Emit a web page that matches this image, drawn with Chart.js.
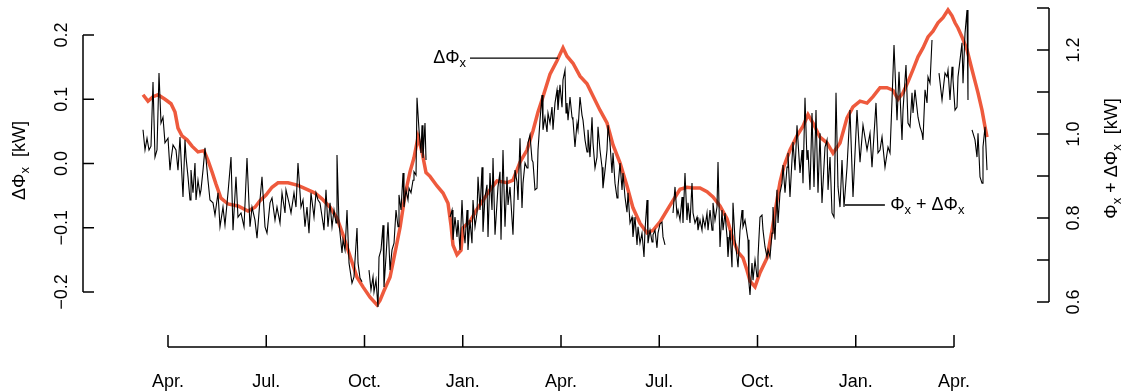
<!DOCTYPE html>
<html lang="en">
<head>
  <meta charset="UTF-8">
  <title>Delta Phi x</title>
  <script src="https://cdn.jsdelivr.net/npm/chart.js"></script>
  <style>
    html, body { margin: 0; padding: 0; background: #fff; }
    #wrap { width: 1131px; height: 392px; position: relative; }
  </style>
</head>
<body>
  <div id="wrap"><canvas id="phiChart"></canvas></div>

  <script>
    // x in months after the first April (Apr. = 0, Jul. = 3, ...)
    const monthTicks = [0, 3, 6, 9, 12, 15, 18, 21, 24];
    const monthLabels = ['Apr.', 'Jul.', 'Oct.', 'Jan.', 'Apr.', 'Jul.', 'Oct.', 'Jan.', 'Apr.'];

    const leftTicks = [-0.2, -0.1, 0, 0.1, 0.2];
    const leftTickLabels = ['\u22120.2', '\u22120.1', '0.0', '0.1', '0.2'];
    const rightTicks = [0.6, 0.7, 0.8, 0.9, 1.0, 1.1, 1.2, 1.3];
    const rightTickLabels = ['0.6', '', '0.8', '', '1.0', '', '1.2', ''];

    // Phi_x + Delta Phi_x (black, right axis); null = gap in the record
    const netMonth = [
      -0.763,-0.702,-0.641,-0.580,-0.519,-0.458,-0.397,-0.336,-0.275,-0.214,
      -0.153,-0.092,0,0.061,0.092,0.153,0.244,0.305,0.366,0.458,
      0.519,0.550,0.611,0.672,0.702,0.763,0.824,0.855,0.916,0.977,
      1.008,1.069,1.130,1.221,1.282,1.374,1.435,1.527,1.588,1.679,
      1.740,1.832,1.924,1.985,2.076,2.137,2.229,2.321,2.412,2.504,
      2.565,2.656,2.718,2.809,2.870,2.962,3.023,3.115,3.176,3.267,
      3.328,3.420,3.481,3.573,3.603,3.695,3.756,3.847,3.908,3.969,
      4.061,4.122,4.183,4.244,4.305,4.366,4.458,4.519,4.580,4.641,
      4.733,4.763,4.824,4.885,4.947,5.008,5.069,5.130,5.160,5.221,
      5.313,5.344,5.405,5.466,5.527,5.618,5.679,5.771,5.802,5.863,
      5.924,6.03,
      6.137,6.198,6.260,6.290,6.351,6.412,6.443,6.504,6.565,6.595,
      6.656,6.718,6.779,6.840,6.901,6.962,7.023,7.053,7.115,7.176,
      7.206,7.267,7.328,7.359,7.420,7.481,7.511,7.573,7.603,7.664,
      7.725,7.756,7.786,7.847,7.878,8.2,
      8.611,8.672,8.702,8.763,8.824,8.855,8.916,8.977,9.008,9.069,
      9.130,9.160,9.221,9.282,9.313,9.374,9.435,9.466,9.527,9.588,
      9.618,9.679,9.740,9.771,9.832,9.893,9.924,9.985,10.076,10.137,
      10.168,10.229,10.290,10.351,10.382,10.443,10.534,10.595,10.656,10.687,
      10.748,10.809,10.840,10.901,10.962,10.992,11.053,11.115,11.145,11.206,
      11.267,11.298,11.359,11.420,11.450,11.511,11.573,11.603,11.664,11.725,
      11.756,11.817,11.878,11.908,11.969,12.031,12.061,12.122,12.153,12.183,
      12.214,12.275,12.336,12.366,12.427,12.489,12.519,12.580,12.641,12.672,
      12.733,12.794,12.824,12.885,12.947,12.977,13.038,13.099,13.130,13.191,
      13.252,13.282,13.344,13.405,13.435,13.496,13.557,13.588,13.649,13.710,
      13.740,13.802,13.863,13.893,13.954,14.015,14.046,14.107,14.168,14.198,
      14.260,14.321,14.351,14.412,14.473,14.534,14.565,14.626,14.656,14.718,
      14.779,14.809,14.870,14.931,14.962,15.023,15.084,15.115,15.176,15.3,
      15.420,15.481,15.542,15.573,15.634,15.695,15.725,15.786,15.847,15.878,
      15.939,16.000,16.031,16.092,16.153,16.183,16.244,16.305,16.336,16.397,
      16.458,16.489,16.550,16.611,16.641,16.702,16.763,16.794,16.855,16.916,
      16.947,17.008,17.069,17.099,17.160,17.221,17.252,17.313,17.374,17.405,
      17.466,17.527,17.557,17.618,
      17.710,17.740,17.771,17.832,17.863,17.924,17.985,18.015,18.076,18.137,
      18.168,18.229,18.290,18.321,18.382,18.443,18.473,18.534,18.595,18.626,
      18.687,18.748,18.779,18.840,18.901,18.931,18.992,19.053,19.084,19.145,
      19.206,19.298,19.359,19.389,19.450,19.511,19.542,19.603,19.664,19.725,
      19.786,19.847,19.908,19.969,20.061,20.122,20.153,20.214,20.275,20.336,
      20.397,20.458,20.519,20.580,20.641,20.733,20.824,20.916,21.038,21.130,
      21.221,21.344,21.435,21.496,21.618,21.679,21.740,21.802,21.893,21.985,
      22.046,22.107,22.168,22.260,22.321,22.412,22.443,22.534,22.595,22.656,
      22.718,22.748,22.809,22.901,22.962,23.023,23.053,23.115,23.176,23.206,
      23.267,23.328,23.43,
      23.542,23.634,23.725,23.786,23.817,23.878,23.939,23.969,24.031,24.092,
      24.122,24.183,24.244,24.275,24.336,24.397,24.427,24.49,
      24.550,24.641,24.702,24.733,24.794,24.855,24.885,24.947,25.008
    ];
    const netValue = [
      1.010,0.962,0.990,0.962,0.971,1.124,0.945,0.962,1.145,1.026,
      1.040,0.979,0.990,0.914,0.938,0.974,0.962,0.914,0.993,0.850,
      0.986,0.945,0.898,0.843,0.914,0.860,0.931,0.843,0.890,0.855,
      0.867,0.914,0.967,0.890,0.843,0.836,0.807,0.860,0.779,0.826,
      0.783,0.860,0.945,0.771,0.898,0.802,0.812,0.779,0.943,0.779,
      0.826,0.795,0.752,0.843,0.898,0.779,0.764,0.836,0.848,0.795,
      0.826,0.788,0.860,0.812,0.867,0.836,0.812,0.860,0.826,0.931,
      0.826,0.843,0.779,0.826,0.764,0.860,0.802,0.860,0.843,0.836,
      0.788,0.771,0.867,0.779,0.836,0.779,0.819,0.788,0.950,0.788,
      0.717,0.748,0.724,0.819,0.693,0.645,0.660,0.776,0.693,0.657,
      0.648,null,
      0.676,0.629,0.660,0.624,0.652,0.588,0.707,0.724,0.783,0.636,
      0.707,0.790,0.676,0.724,0.740,0.819,0.779,0.855,0.819,0.907,
      0.826,0.867,0.843,0.871,0.860,0.890,0.910,0.902,1.086,1.010,
      0.955,1.021,0.943,1.026,0.938,null,
      0.802,0.819,0.748,0.802,0.755,0.795,0.724,0.843,0.788,0.740,
      0.819,0.724,0.795,0.740,0.843,0.779,0.812,0.898,0.819,0.921,
      0.767,0.850,0.879,0.755,0.907,0.819,0.943,0.760,0.874,0.910,
      0.748,0.962,0.779,0.898,0.831,0.874,0.760,0.914,0.886,0.843,
      0.990,0.824,0.883,0.931,0.919,0.979,0.998,0.938,0.933,0.867,
      0.871,0.962,1.033,1.093,1.010,1.040,1.005,1.050,1.026,1.064,
      1.010,1.074,1.105,1.057,1.117,1.064,1.129,1.152,1.050,1.074,
      1.033,1.088,1.040,1.033,0.969,1.026,1.010,1.088,1.045,1.033,
      0.986,0.957,1.010,0.945,1.040,0.979,0.919,0.945,1.017,0.962,
      0.921,0.871,0.914,0.962,1.021,0.979,0.907,0.955,0.883,0.848,
      0.874,0.931,0.867,0.907,0.850,0.814,0.860,0.788,0.802,0.755,
      0.802,0.736,0.779,0.740,0.764,0.707,0.771,0.843,0.740,0.771,
      0.743,0.760,0.771,0.729,0.764,0.786,0.790,0.755,0.736,null,
      0.812,0.874,0.807,0.819,0.795,0.850,0.788,0.907,0.795,0.836,
      0.788,0.883,0.812,0.788,0.802,0.771,0.795,0.771,0.802,0.779,
      0.812,0.771,0.819,0.771,0.836,0.795,0.826,0.933,0.731,0.819,
      0.771,0.812,0.755,0.707,0.771,0.683,0.836,0.748,0.707,0.683,
      0.771,0.819,0.779,0.795,
      0.748,0.645,0.617,0.693,0.652,0.700,0.660,0.707,0.802,0.807,
      0.771,0.731,0.707,0.724,0.707,0.764,0.826,0.748,0.867,0.788,
      0.860,0.883,0.926,0.860,0.921,0.955,0.850,0.938,0.981,0.914,
      1.021,0.907,0.962,0.883,1.086,0.938,0.962,0.867,1.050,0.874,
      1.057,0.860,1.002,0.836,0.969,0.986,0.867,0.945,0.812,0.802,
      1.098,0.874,0.826,0.938,0.826,0.921,1.057,0.850,1.057,0.933,
      1.021,0.962,1.002,0.921,1.074,0.955,0.962,0.993,0.921,0.969,
      0.955,1.081,1.212,1.033,1.148,0.986,1.057,1.164,1.026,1.017,
      1.098,1.050,1.105,1.040,1.017,1.002,0.986,1.105,1.074,1.136,
      1.121,1.224,null,
      1.145,1.081,1.145,1.136,1.152,1.081,1.160,1.129,1.057,1.064,
      1.136,1.176,1.217,1.121,1.240,1.295,1.081,null,
      1.010,0.986,0.945,1.002,0.898,0.883,0.969,1.017,0.914
    ];

    // Delta Phi_x (red, left axis)
    const deltaMonth = [
      -0.763,-0.611,-0.458,-0.305,-0.092,0.092,0.214,0.305,0.427,0.580,
      0.733,0.916,1.099,1.221,1.344,1.466,1.618,1.832,2.137,2.443,
      2.656,2.809,2.992,3.176,3.359,3.664,3.969,4.275,4.489,4.702,
      4.947,5.160,5.344,5.557,5.771,5.954,6.168,6.382,6.473,6.595,
      6.779,6.931,7.084,7.237,7.389,7.511,7.634,7.756,7.878,8.000,
      8.214,8.397,8.550,8.641,8.702,8.824,8.947,9.008,9.221,9.435,
      9.649,9.832,10.046,10.351,10.534,10.748,10.962,11.145,11.298,11.450,
      11.664,11.878,12.061,12.183,12.366,12.580,12.794,12.977,13.191,13.405,
      13.588,13.802,14.015,14.198,14.412,14.626,14.809,15.023,15.328,15.634,
      15.847,16.031,16.244,16.458,16.641,16.855,17.069,17.252,17.405,17.557,
      17.679,17.771,17.924,18.076,18.290,18.443,18.595,18.687,18.809,18.992,
      19.206,19.389,19.542,19.695,19.908,20.122,20.305,20.519,20.733,20.916,
      21.130,21.344,21.527,21.740,21.954,22.137,22.290,22.443,22.595,22.748,
      22.901,23.053,23.206,23.359,23.511,23.664,23.817,23.939,24.031,24.122,
      24.244,24.397,24.550,24.672,24.733,24.855,24.947,25.008
    ];
    const deltaValue = [
      0.107,0.097,0.104,0.107,0.100,0.093,0.080,0.055,0.043,0.037,
      0.027,0.018,0.020,0.005,-0.013,-0.032,-0.054,-0.063,-0.066,-0.074,
      -0.068,-0.058,-0.049,-0.037,-0.030,-0.030,-0.034,-0.041,-0.046,-0.055,
      -0.068,-0.085,-0.111,-0.144,-0.177,-0.192,-0.208,-0.220,-0.213,-0.198,
      -0.177,-0.139,-0.100,-0.049,-0.013,0.009,0.041,0.018,-0.014,-0.020,
      -0.035,-0.046,-0.062,-0.096,-0.127,-0.142,-0.135,-0.100,-0.090,-0.071,
      -0.055,-0.041,-0.027,-0.030,-0.026,0.002,0.021,0.051,0.080,0.104,
      0.139,0.160,0.180,0.167,0.156,0.136,0.124,0.105,0.083,0.063,
      0.029,0.001,-0.035,-0.069,-0.093,-0.108,-0.104,-0.091,-0.065,-0.040,
      -0.037,-0.038,-0.038,-0.044,-0.052,-0.066,-0.086,-0.118,-0.138,-0.147,
      -0.166,-0.183,-0.192,-0.170,-0.147,-0.104,-0.057,-0.029,-0.004,0.021,
      0.043,0.058,0.076,0.063,0.041,0.032,0.016,0.032,0.071,0.088,
      0.097,0.094,0.104,0.118,0.118,0.114,0.100,0.110,0.127,0.146,
      0.166,0.180,0.197,0.206,0.219,0.227,0.239,0.230,0.219,0.211,
      0.197,0.177,0.146,0.122,0.110,0.083,0.057,0.041
    ];

    const FONT = '"Liberation Sans", Arial, Helvetica, sans-serif';

    // text with subscripts: odd entries of parts are subscripts
    function subText(ctx, parts, x, y, size, align) {
      const main = size + 'px ' + FONT;
      const small = Math.round(size * 0.72) + 'px ' + FONT;
      let w = 0;
      parts.forEach((p, i) => { ctx.font = i % 2 ? small : main; w += ctx.measureText(p).width; });
      let cx = align === 'center' ? x - w / 2 : (align === 'right' ? x - w : x);
      ctx.textAlign = 'left';
      ctx.textBaseline = 'middle';
      parts.forEach((p, i) => {
        ctx.font = i % 2 ? small : main;
        ctx.fillText(p, cx, y + (i % 2 ? size * 0.3 : 0));
        cx += ctx.measureText(p).width;
      });
    }

    function rotatedText(ctx, parts, x, y, size) {
      ctx.save();
      ctx.translate(x, y);
      ctx.rotate(-Math.PI / 2);
      subText(ctx, parts, 0, 0, size, 'center');
      ctx.restore();
    }

    // R style detached axes plus the two labels with pointer lines
    const rAxes = {
      id: 'rAxes',
      afterDraw(chart) {
        const { ctx, chartArea, scales: { x, y, y2 } } = chart;
        ctx.save();
        ctx.strokeStyle = '#000';
        ctx.fillStyle = '#000';
        ctx.lineWidth = 1.5;
        ctx.lineCap = 'butt';

        // bottom axis
        const by = chartArea.bottom + 35;
        ctx.beginPath();
        ctx.moveTo(x.getPixelForValue(monthTicks[0]), by);
        ctx.lineTo(x.getPixelForValue(monthTicks[monthTicks.length - 1]), by);
        monthTicks.forEach(m => {
          const px = x.getPixelForValue(m);
          ctx.moveTo(px, by);
          ctx.lineTo(px, by - 12);
        });
        ctx.stroke();
        ctx.font = '18px ' + FONT;
        ctx.textAlign = 'center';
        ctx.textBaseline = 'middle';
        monthTicks.forEach((m, i) => ctx.fillText(monthLabels[i], x.getPixelForValue(m), by + 35));

        // left axis
        const lx = chartArea.left - 57;
        ctx.beginPath();
        ctx.moveTo(lx, y.getPixelForValue(leftTicks[0]));
        ctx.lineTo(lx, y.getPixelForValue(leftTicks[leftTicks.length - 1]));
        leftTicks.forEach(v => {
          const py = y.getPixelForValue(v);
          ctx.moveTo(lx, py);
          ctx.lineTo(lx + 11, py);
        });
        ctx.stroke();
        leftTicks.forEach((v, i) => rotatedText(ctx, [leftTickLabels[i]], lx - 21, y.getPixelForValue(v), 18));
        rotatedText(ctx, ['\u0394\u03a6', 'x', '  [kW]'], lx - 63, (chartArea.top + chartArea.bottom) / 2 + 2, 18);

        // right axis
        const rx = chartArea.right + 59;
        ctx.beginPath();
        ctx.moveTo(rx, y2.getPixelForValue(rightTicks[0]));
        ctx.lineTo(rx, y2.getPixelForValue(rightTicks[rightTicks.length - 1]));
        rightTicks.forEach(v => {
          const py = y2.getPixelForValue(v);
          ctx.moveTo(rx, py);
          ctx.lineTo(rx - 12, py);
        });
        ctx.stroke();
        rightTicks.forEach((v, i) => {
          if (rightTickLabels[i]) rotatedText(ctx, [rightTickLabels[i]], rx + 25, y2.getPixelForValue(v), 18);
        });
        rotatedText(ctx, ['\u03a6', 'x', ' + \u0394\u03a6', 'x', '  [kW]'], rx + 63, (chartArea.top + chartArea.bottom) / 2, 18);

        // labels with pointer lines
        ctx.lineWidth = 1.3;
        const ay = y.getPixelForValue(0.164);
        ctx.beginPath();
        ctx.moveTo(x.getPixelForValue(9.22), ay);
        ctx.lineTo(x.getPixelForValue(11.91), ay);
        const ny = y2.getPixelForValue(0.831);
        ctx.moveTo(x.getPixelForValue(20.67), ny);
        ctx.lineTo(x.getPixelForValue(21.89), ny);
        ctx.stroke();
        subText(ctx, ['\u0394\u03a6', 'x'], x.getPixelForValue(9.10), ay, 18, 'right');
        subText(ctx, ['\u03a6', 'x', ' + \u0394\u03a6', 'x'], x.getPixelForValue(22.05), ny, 18, 'left');
        ctx.restore();
      }
    };

    const netPoints = netMonth.map((m, i) => ({ x: m, y: netValue[i] }));
    const deltaPoints = deltaMonth.map((m, i) => ({ x: m, y: deltaValue[i] }));

    const config = {
      type: 'line',
      data: {
        datasets: [
          {
            label: 'Phi_x + Delta Phi_x',
            data: netPoints,
            yAxisID: 'y2',
            borderColor: '#000000',
            borderWidth: 1.1,
            pointRadius: 0,
            tension: 0,
            spanGaps: false,
            fill: false
          },
          {
            label: 'Delta Phi_x',
            data: deltaPoints,
            yAxisID: 'y',
            borderColor: '#EE5A3D',
            borderWidth: 3.5,
            pointRadius: 0,
            tension: 0,
            fill: false
          }
        ]
      },
      options: {
        responsive: true,
        maintainAspectRatio: false,
        animation: false,
        events: [],
        layout: { padding: { left: 140, right: 141, top: 5, bottom: 80 } },
        plugins: { legend: { display: false }, tooltip: { enabled: false } },
        scales: {
          x: { type: 'linear', min: -0.855, max: 25.099, display: false },
          y: { type: 'linear', position: 'left', min: -0.2311, max: 0.2467, display: false },
          y2: { type: 'linear', position: 'right', min: 0.5762, max: 1.3071, display: false }
        }
      },
      plugins: [rAxes]
    };

    const ctx = document.getElementById('phiChart').getContext('2d');
    const chart = new Chart(ctx, config);
  </script>
</body>
</html>
